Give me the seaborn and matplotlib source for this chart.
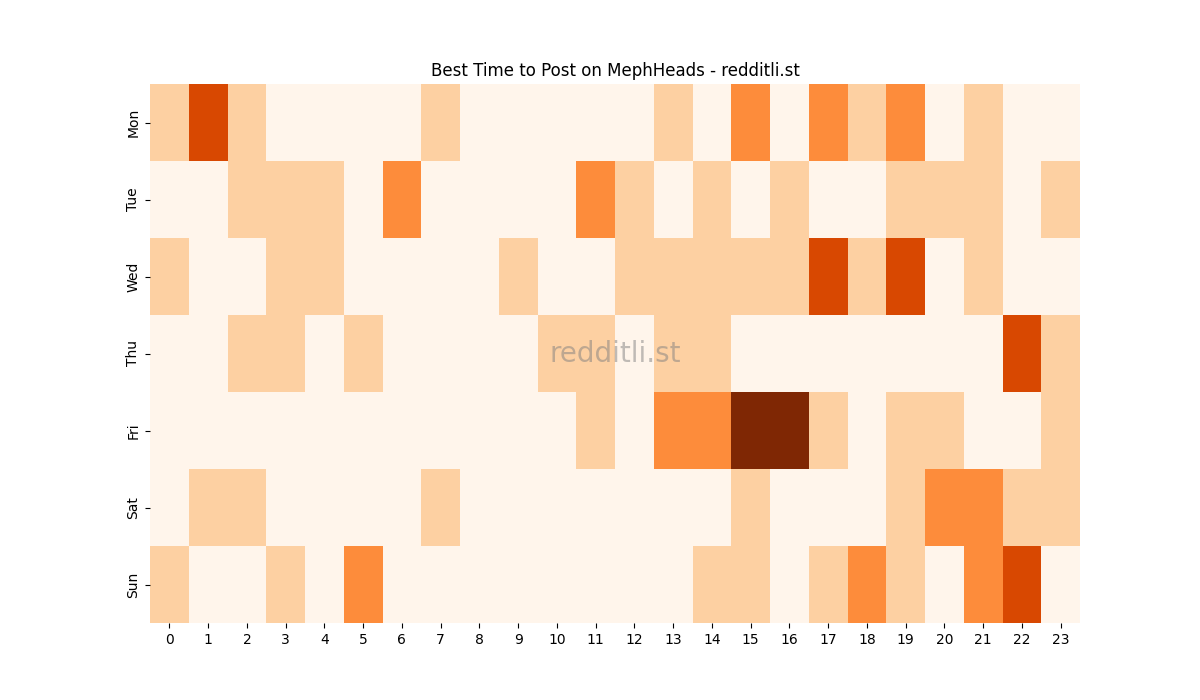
import matplotlib
matplotlib.use("Agg")
import matplotlib.pyplot as plt
import seaborn as sns
import pandas as pd

days = ["Mon", "Tue", "Wed", "Thu", "Fri", "Sat", "Sun"]
hours = list(range(24))
mon = [1,3,1,0,0,0,0,1,0,0,0,0,0,1,0,2,0,2,1,2,0,1,0,0]
tue = [0,0,1,1,1,0,2,0,0,0,0,2,1,0,1,0,1,0,0,1,1,1,0,1]
wed = [1,0,0,1,1,0,0,0,0,1,0,0,1,1,1,1,1,3,1,3,0,1,0,0]
thu = [0,0,1,1,0,1,0,0,0,0,1,1,0,1,1,0,0,0,0,0,0,0,3,1]
fri = [0,0,0,0,0,0,0,0,0,0,0,1,0,2,2,4,4,1,0,1,1,0,0,1]
sat = [0,1,1,0,0,0,0,1,0,0,0,0,0,0,0,1,0,0,0,1,2,2,1,1]
sun = [1,0,0,1,0,2,0,0,0,0,0,0,0,0,1,1,0,1,2,1,0,2,3,0]

df = pd.DataFrame([mon, tue, wed, thu, fri, sat, sun], index=days, columns=hours)

fig, ax = plt.subplots(figsize=(12, 7), dpi=100)
sns.heatmap(df, cmap="Oranges", vmin=0, vmax=4, cbar=False, ax=ax)
ax.set_title("Best Time to Post on MephHeads - redditli.st")
ax.set_xlabel("")
ax.set_ylabel("")
ax.text(0.5, 0.5, "redditli.st", transform=ax.transAxes, ha="center", va="center",
        fontsize=20, color="gray", alpha=0.5)
fig.savefig("out.png")
